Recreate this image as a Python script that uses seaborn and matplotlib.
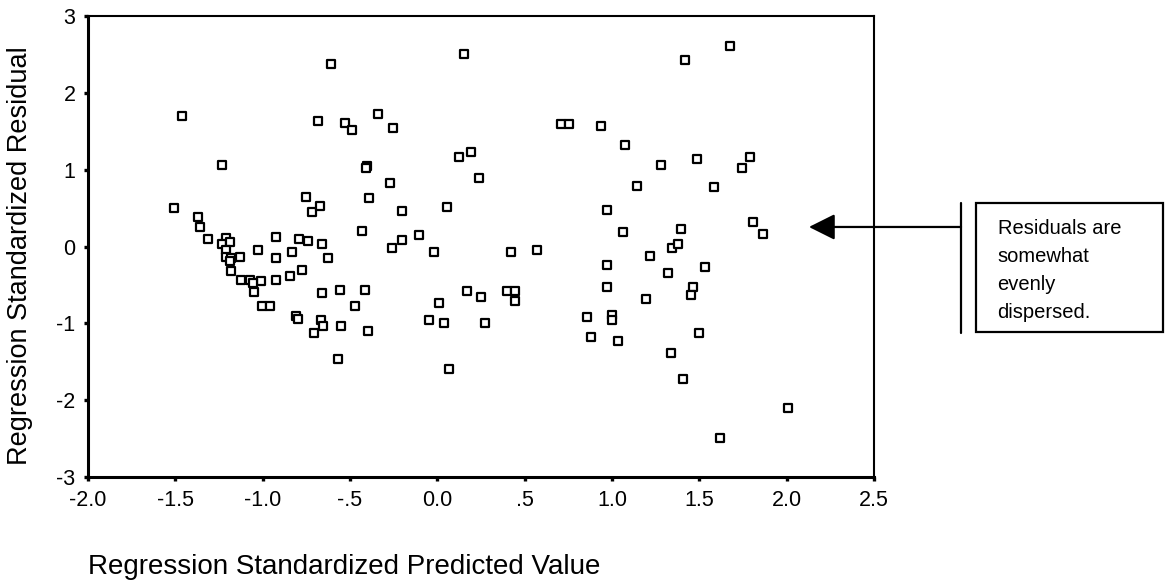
import pandas as pd
import matplotlib
matplotlib.use('Agg')
import matplotlib.pyplot as plt
import seaborn as sns

# Datos (valor predicho estandarizado, residuo estandarizado)
predicho = [-1.509, -1.459, -1.370, -1.360, -1.313, -1.232, -1.208, -1.231, -1.189, -1.208,
            -1.211, -1.179, -1.128, -1.189, -1.179, -1.122, -1.070, -1.011, -1.055, -1.050,
            -1.004, -0.956, -1.029, -0.926, -0.926, -0.833, -0.926, -0.846, -0.777, -0.792,
            -0.741, -0.663, -0.627, -0.720, -0.673, -0.753, -0.661, -0.560, -0.808, -0.800,
            -0.665, -0.656, -0.709, -0.551, -0.570, -0.684, -0.607, -0.526, -0.490, -0.341,
            -0.253, -0.404, -0.411, -0.390, -0.273, -0.433, -0.204, -0.204, -0.261, -0.105,
            -0.021, -0.413, -0.470, -0.398, -0.047, 0.036, 0.011, 0.069, 0.057, 0.150,
            0.124, 0.194, 0.240, 0.171, 0.249, 0.272, 0.419, 0.569, 0.400, 0.446,
            0.446, 0.707, 0.754, 0.937, 1.074, 0.973, 1.060, 0.970, 0.970, 0.857,
            0.878, 1.002, 1.002, 1.036, 1.143, 1.280, 1.220, 1.196, 1.345, 1.379,
            1.394, 1.320, 1.335, 1.404, 1.416, 1.484, 1.463, 1.450, 1.530, 1.495,
            1.585, 1.620, 1.676, 1.745, 1.792, 1.804, 1.863, 2.010]
residuo = [0.50, 1.70, 0.38, 0.25, 0.10, 1.06, 0.11, 0.035, 0.056, -0.05,
           -0.13, -0.15, -0.13, -0.19, -0.32, -0.43, -0.43, -0.45, -0.48, -0.59,
           -0.77, -0.77, -0.05, 0.13, -0.15, -0.07, -0.43, -0.38, -0.30, 0.10,
           0.07, 0.03, -0.15, 0.45, 0.53, 0.65, -0.61, -0.56, -0.91, -0.94,
           -0.96, -1.03, -1.13, -1.04, -1.47, 1.64, 2.37, 1.61, 1.52, 1.72,
           1.54, 1.05, 1.02, 0.63, 0.83, 0.20, 0.46, 0.08, -0.02, 0.15,
           -0.07, -0.56, -0.77, -1.10, -0.95, -1.00, -0.74, -1.60, 0.51, 2.50,
           1.17, 1.23, 0.89, -0.58, -0.66, -1.00, -0.07, -0.04, -0.58, -0.58,
           -0.71, 1.59, 1.59, 1.57, 1.32, 0.48, 0.19, -0.24, -0.53, -0.92,
           -1.18, -0.89, -0.96, -1.23, 0.79, 1.06, -0.12, -0.68, -0.02, 0.03,
           0.23, -0.35, -1.39, -1.72, 2.43, 1.14, -0.53, -0.63, -0.27, -1.13,
           0.77, -2.49, 2.61, 1.02, 1.17, 0.32, 0.16, -2.10]

xticks = [-2.0, -1.5, -1.0, -0.5, 0.0, 0.5, 1.0, 1.5, 2.0, 2.5]
xticklabels = ['-2.0', '-1.5', '-1.0', '-.5', '0.0', '.5', '1.0', '1.5', '2.0', '2.5']
yticks = [3, 2, 1, 0, -1, -2, -3]
yticklabels = ['3', '2', '1', '0', '-1', '-2', '-3']

nota = 'Residuals are\nsomewhat\nevenly\ndispersed.'

df = pd.DataFrame({'predicho': predicho, 'residuo': residuo})

sns.set_style('white')
plt.rcParams['font.family'] = ['Liberation Sans', 'DejaVu Sans']

fig, ax = plt.subplots(figsize=(11.67, 5.85), dpi=100)
fig.subplots_adjust(left=0.0754, right=0.749, bottom=0.1846, top=0.9726)

sns.scatterplot(data=df, x='predicho', y='residuo', marker='s', s=40,
                facecolor='white', edgecolor='black', linewidth=1.6, ax=ax)

ax.set_xlim(-2.0, 2.5)
ax.set_ylim(-3, 3)
ax.set_xticks(xticks)
ax.set_xticklabels(xticklabels)
ax.set_yticks(yticks)
ax.set_yticklabels(yticklabels)
ax.tick_params(axis='both', bottom=True, left=True, direction='out',
               length=3, width=2.4, color='black', labelsize=15.5, pad=6,
               labelcolor='black')

for lado in ['left', 'bottom']:
    ax.spines[lado].set_linewidth(2.2)
    ax.spines[lado].set_color('black')
for lado in ['top', 'right']:
    ax.spines[lado].set_linewidth(1.5)
    ax.spines[lado].set_color('black')

ax.set_ylabel('Regression Standardized Residual', fontsize=19.5, color='black')
ax.yaxis.set_label_coords(-0.070, 0.48)
ax.set_xlabel('Regression Standardized Predicted Value', fontsize=20,
              color='black', loc='left')
ax.xaxis.set_label_coords(0.0, -0.166)

# flecha y recuadro de la nota (coordenadas de figura)
ax.annotate('', xy=(0.6932, 0.6120), xycoords='figure fraction',
            xytext=(0.8235, 0.6120), textcoords='figure fraction',
            arrowprops=dict(arrowstyle='-|>,head_length=1.0,head_width=0.5',
                            mutation_scale=16, color='black', lw=1.6,
                            shrinkA=0, shrinkB=0),
            annotation_clip=False)
fig.add_artist(plt.Line2D([0.8235, 0.8235], [0.6530, 0.4308],
                          transform=fig.transFigure, color='black', lw=1.6))
fig.add_artist(plt.Rectangle((0.8363, 0.4325), 0.1603, 0.2205,
                             transform=fig.transFigure, fill=False,
                             edgecolor='black', lw=1.6))
fig.text(0.8548, 0.6256, nota, fontsize=14.5, va='top', ha='left',
         linespacing=1.59, color='black')

plt.savefig('out.png', dpi=100)
